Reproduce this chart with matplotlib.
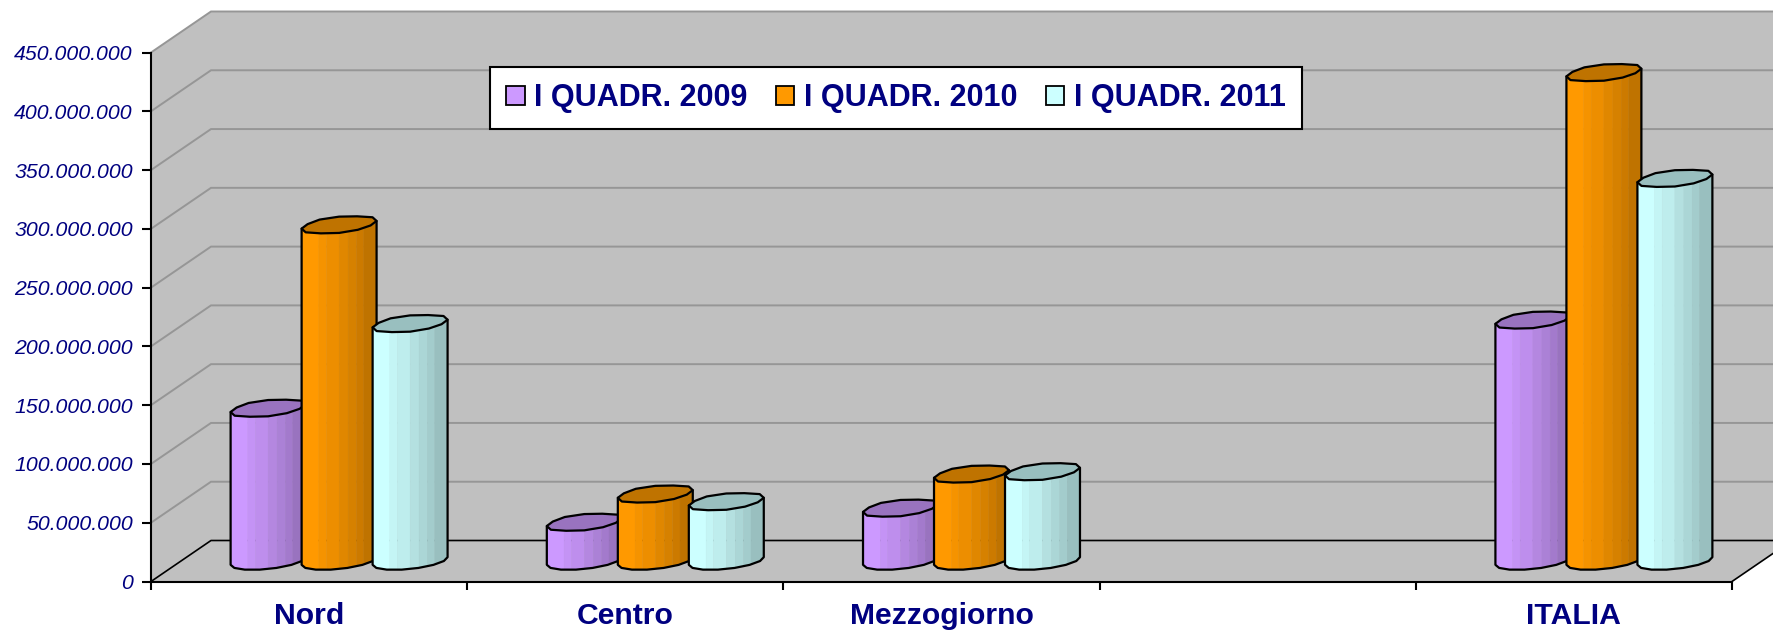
import numpy as np
import matplotlib
matplotlib.use("Agg")
import matplotlib.pyplot as plt
from matplotlib.patches import Patch, Polygon

plt.rcParams['font.family'] = ['Liberation Sans', 'DejaVu Sans']

categories = ["Nord", "Centro", "Mezzogiorno", "", "ITALIA"]
series_names = ["I QUADR. 2009", "I QUADR. 2010", "I QUADR. 2011"]
q1_2009 = [130000000, 33000000, 45000000, 0, 205000000]
q1_2010 = [286000000, 57000000, 74000000, 0, 415500000]
q1_2011 = [202000000, 50500000, 76000000, 0, 325500000]
y_ticks = [0, 50000000, 100000000, 150000000, 200000000,
           250000000, 300000000, 350000000, 400000000, 450000000]
colors = ["#CC99FF", "#FF9900", "#CCFFFF"]

W, H = 1774, 630
NAVY = "#000080"
GRID = "#969696"
WALL = "#C0C0C0"

fig = plt.figure(figsize=(W / 100, H / 100), dpi=100)
ax = fig.add_axes([151 / W, 1 - 581.5 / H, (1732 - 151) / W, (581.5 - 52.5) / H])
ax.set_xlim(0, len(categories))
ax.set_ylim(0, y_ticks[-1])
ax.patch.set_visible(False)

# size of one pixel in data units, the chart is a fake 3d box
px = len(categories) / (1732 - 151)
py = y_ticks[-1] / (581.5 - 52.5)
depth_x = 60 * px
depth_y = 41 * py

# shading bands across a cylinder, left to right
band_edges = [0, .23, .33, .5, .62, .73, .83, 1]
band_shade = [1, .96, .93, .88, .84, .80, .75]
# the caps in the original are lumpy, not true ellipses
cap_lumps = [1.0, 1.03, .96, 1.02, 1.04, .97, 1.0, 1.03, .97, 1.02, 1.0, .97]


def darker(color, f):
    rgb = np.array(matplotlib.colors.to_rgb(color))
    return tuple(rgb * f)


def draw_box():
    top = y_ticks[-1]
    right = len(categories)
    wall = [(0, 0), (0, top), (depth_x, top + depth_y),
            (right + depth_x, top + depth_y), (right + depth_x, depth_y), (right, 0)]
    ax.add_patch(Polygon(wall, closed=True, fc=WALL, ec="none", clip_on=False, zorder=1))
    for v in y_ticks[1:]:
        ax.plot([0, depth_x, right + depth_x], [v, v + depth_y, v + depth_y],
                color=GRID, lw=1.4, clip_on=False, zorder=1.5, solid_joinstyle="miter")
    ax.plot([0, depth_x, right + depth_x], [0, depth_y, depth_y],
            color="black", lw=1.2, clip_on=False, zorder=1.6)
    ax.plot([right, right + depth_x], [0, depth_y], color="black", lw=1.2,
            clip_on=False, zorder=1.6)


def draw_cylinder(xc, value, color, z):
    # ellipse seen from above, a bit sheared to follow the depth direction
    a = 37 * px
    shear = 6 * px
    b = 8.5 * py
    tilt = 2.5 * py
    t0 = np.arctan2(shear, a)
    base = depth_y / 2

    def ring(t):
        return xc + a * np.cos(t) + shear * np.sin(t), tilt * np.cos(t) + b * np.sin(t)

    # bands cut the front half, which runs from left end to right end along the bottom
    band_t = t0 + np.pi + np.arccos(1 - 2 * np.array(band_edges))
    for k in range(len(band_shade)):
        tt = np.linspace(band_t[k], band_t[k + 1], 6)
        bx, by = ring(tt)
        pts = list(zip(bx, base + value + by)) + list(zip(bx[::-1], base + by[::-1]))
        c = darker(color, band_shade[k])
        ax.add_patch(Polygon(pts, closed=True, fc=c, ec=c, lw=0.3, clip_on=False, zorder=z))
    # silhouette
    front = np.linspace(t0 + np.pi, t0 + 2 * np.pi, 8)
    fx, fy = ring(front)
    outline = list(zip(fx, base + fy)) + [(fx[-1], base + value + fy[-1]),
                                          (fx[0], base + value + fy[0])]
    ax.add_patch(Polygon(outline, closed=True, fc="none", ec="black", lw=1.6,
                         clip_on=False, zorder=z + 0.01, joinstyle="round"))
    # top cap
    tt = t0 + np.linspace(0, 2 * np.pi, len(cap_lumps) + 1)[:-1]
    cx, cy = ring(tt)
    cx = xc + (cx - xc) * np.array(cap_lumps)
    cy = cy * np.array(cap_lumps)
    ax.add_patch(Polygon(list(zip(cx, base + value + cy)), closed=True,
                         fc=darker(color, 0.75), ec="black", lw=1.6,
                         clip_on=False, zorder=z + 0.02, joinstyle="round"))


draw_box()

series = [q1_2009, q1_2010, q1_2011]
bar_step = 71 * px
for i in range(len(categories)):
    center = i + 0.5 + depth_x / 2
    for j, vals in enumerate(series):
        if vals[i] > 0:
            draw_cylinder(center + (j - 1) * bar_step, vals[i], colors[j], 3 + j + i * 0.1)

# axes
for s in ["top", "right"]:
    ax.spines[s].set_visible(False)
for s in ["left", "bottom"]:
    ax.spines[s].set_linewidth(1.5)
    ax.spines[s].set_zorder(2)

ax.set_yticks(y_ticks)
ax.set_yticklabels([f"{v:,}".replace(",", ".") for v in y_ticks],
                   fontsize=15.3, style="italic", color=NAVY)
ax.tick_params(axis="y", length=6.5, width=1.5, pad=6.5)

ax.set_xticks(np.arange(len(categories) + 1))
ax.set_xticklabels([])
ax.tick_params(axis="x", which="major", length=6, width=1.5)
ax.set_xticks(np.arange(len(categories)) + 0.5, minor=True)
ax.set_xticklabels(categories, minor=True, fontsize=21.7, fontweight="bold", color=NAVY)
ax.tick_params(axis="x", which="minor", length=0, pad=14.5)

handles = [Patch(fc=c, ec="black", lw=1.3) for c in colors]
leg = fig.legend(handles, series_names, ncols=3, loc="center",
                 bbox_to_anchor=(896 / W, 1 - 98 / H),
                 prop={"size": 22, "weight": "bold"}, labelcolor=NAVY,
                 frameon=True, fancybox=False, framealpha=1, facecolor="white",
                 edgecolor="black", handlelength=0.6, handleheight=0.6,
                 handletextpad=0.32, columnspacing=0.92, borderpad=0.52)
leg.get_frame().set_linewidth(1.5)
leg.set_zorder(20)

fig.savefig("out.png", dpi=100)
